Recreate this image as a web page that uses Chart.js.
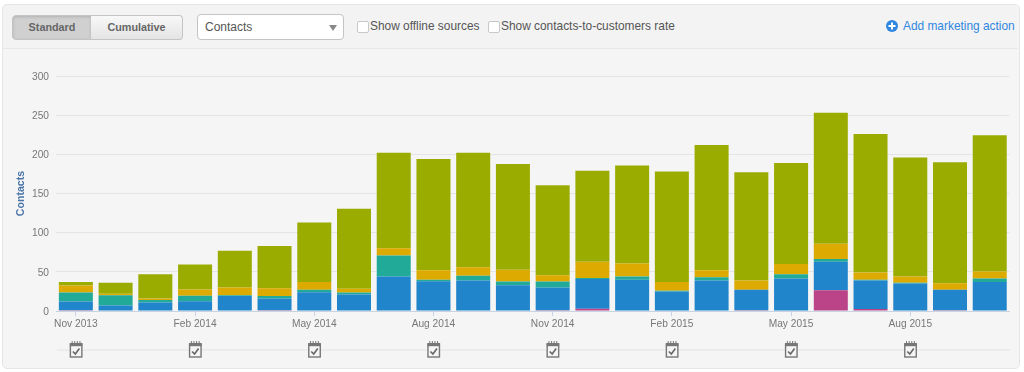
<!DOCTYPE html>
<html>
<head>
<meta charset="utf-8">
<script src="https://cdn.jsdelivr.net/npm/chart.js@4"></script>
<style>
html,body{margin:0;padding:0;width:1024px;height:372px;background:#fff;overflow:hidden;font-family:"Liberation Sans",Arial,sans-serif;}
#panel{position:absolute;left:2px;top:4px;width:1016px;height:363px;background:#f5f5f5;border:1px solid #e6e6e6;border-radius:5px;}
#head{position:absolute;left:3px;top:5px;width:1015px;height:43px;background:#f3f3f3;border-bottom:1px solid #e8e8e8;border-radius:5px 5px 0 0;}
#chart{position:absolute;left:0;top:0;}
.btn{position:absolute;top:15px;height:23px;line-height:23px;text-align:center;font-size:10.8px;font-weight:bold;color:#666;border:1px solid #c4c4c4;box-sizing:content-box;}
#std{left:12px;width:78px;background:#d0d0d0;border-radius:4px 0 0 4px;box-shadow:inset 0 1px 3px rgba(0,0,0,.15);}
#cum{left:91px;width:91px;border-left:0;background:linear-gradient(#f8f8f8,#e4e4e4);border-radius:0 4px 4px 0;}
#sel{position:absolute;left:197px;top:14px;width:145px;height:24px;line-height:24px;background:#fff;border:1px solid #c4c4c4;border-radius:4px;font-size:12px;color:#555;text-indent:7px;}
#sel i{position:absolute;right:6px;top:10px;width:0;height:0;border-left:4px solid transparent;border-right:4px solid transparent;border-top:6px solid #888;}
.cb{position:absolute;top:21px;width:10px;height:10px;background:#fff;border:1px solid #c8c8c8;border-radius:2px;}
.lb{position:absolute;top:19px;font-size:11.9px;line-height:15px;color:#555;white-space:nowrap;}
#add{position:absolute;left:903px;top:19px;font-size:11.9px;line-height:15px;color:#2f87e0;white-space:nowrap;}
#plus{position:absolute;left:886px;top:20px;width:12px;height:12px;}
</style>
</head>
<body>
<div id="panel"></div>
<div id="head"></div>
<div id="std" class="btn">Standard</div>
<div id="cum" class="btn">Cumulative</div>
<div id="sel">Contacts<i></i></div>
<div class="cb" style="left:357px"></div><div class="lb" style="left:370px">Show offline sources</div>
<div class="cb" style="left:488px"></div><div class="lb" style="left:501px">Show contacts-to-customers rate</div>
<svg id="plus" viewBox="0 0 12 12"><circle cx="6" cy="6" r="6" fill="#2f87e0"/><rect x="2.5" y="5" width="7" height="2" fill="#fff"/><rect x="5" y="2.5" width="2" height="7" fill="#fff"/></svg>
<div id="add">Add marketing action</div>
<canvas id="chart" width="1024" height="372"></canvas>
<script>
const categories = ['Nov 2013','Dec 2013','Jan 2014','Feb 2014','Mar 2014','Apr 2014','May 2014','Jun 2014','Jul 2014','Aug 2014','Sep 2014','Oct 2014','Nov 2014','Dec 2014','Jan 2015','Feb 2015','Mar 2015','Apr 2015','May 2015','Jun 2015','Jul 2015','Aug 2015','Sep 2015','Oct 2015'];
const tickLabels = ['Nov 2013','Feb 2014','May 2014','Aug 2014','Nov 2014','Feb 2015','May 2015','Aug 2015'];
const yTicks = [0,50,100,150,200,250,300];
const pink  = [1,0,0,0,0,1,0,0,0,0,0,0,1,3,0,0,0,1,0,26.5,2.5,0,1,0];
const blue  = [11,7,11,12.5,19,15,24,21,44,38,39,33,29,38,40,25,39,26,41.5,36.5,36.5,35,26,37];
const teal  = [11.5,13,3,7,1,3,3,2.5,27,2,6,4.6,7.6,1,4,1,4,0,5.5,3.5,1,1,0,4.5];
const gold  = [9,2,2,8,10,10,10,5,9,12,11,15,8,21,16.7,11,9,12,13,19.5,9,8,8.5,9];
const green = [4.5,14,31,32,47,54,76,102,122,142,146,135,115,116,125,141,160,138,129,167,177,152,154.5,174];

const markerPlugin = {
  id:'markers',
  afterDraw(chart){
    const c = chart.ctx, x = chart.scales.x, y0 = 350;
    c.save();
    c.strokeStyle = '#e8e8e8'; c.lineWidth = 1.5;
    c.beginPath(); c.moveTo(57,y0); c.lineTo(1010,y0); c.stroke();
    tickLabels.forEach(l=>{
      const px = x.getPixelForValue(categories.indexOf(l));
      c.fillStyle='#f5f5f5'; c.strokeStyle='#777'; c.lineWidth=1.4;
      c.fillRect(px-6,y0-6,12,13); c.strokeRect(px-5.5,y0-6,11.5,13);
      c.fillStyle='#777'; c.fillRect(px-6,y0-7,12.5,3.2);
      c.strokeStyle='#777'; c.lineWidth=1;
      for(let i=-4;i<=4;i+=2.6){c.beginPath();c.moveTo(px+i+.3,y0-9);c.lineTo(px+i+.3,y0-6);c.stroke();}
      c.strokeStyle='#666'; c.lineWidth=1.6;
      c.beginPath(); c.moveTo(px-3,y0+1.5); c.lineTo(px-.5,y0+4); c.lineTo(px+3.5,y0-1.5); c.stroke();
    });
    c.restore();
  }
};

const mk = (label,data,color)=>({label,data,backgroundColor:color,borderWidth:0,stack:'a',barPercentage:0.856,categoryPercentage:1});

new Chart(document.getElementById('chart'),{
  type:'bar',
  data:{labels:categories,datasets:[
    mk('Offline',pink,'#bb4488'),
    mk('Organic',blue,'#2185cb'),
    mk('Referrals',teal,'#22aa99'),
    mk('Social',gold,'#dcaa00'),
    mk('Direct',green,'#9aac00')
  ]},
  plugins:[markerPlugin],
  options:{
    responsive:false,animation:false,
    layout:{padding:{left:15,top:76,right:14.4,bottom:31}},
    plugins:{legend:{display:false},tooltip:{enabled:false}},
    scales:{
      x:{stacked:true,
        afterFit(s){s.height=30;},
        border:{color:'#c8d4e2',width:1},
        grid:{drawOnChartArea:false,offset:false,tickLength:5,
          tickColor(ctx){return tickLabels.includes(categories[ctx.index])?'#c8d4e2':'transparent';}},
        ticks:{autoSkip:false,maxRotation:0,color:'#777',padding:2,font:{family:'Liberation Sans',size:10.2},
          callback(v,i){return tickLabels.includes(categories[i])?categories[i]:'';}}
      },
      y:{stacked:true,min:0,max:300,
        afterFit(s){s.width=41;},
        afterBuildTicks(s){s.ticks=yTicks.map(v=>({value:v}));},
        border:{display:false},
        grid:{color:'#e4e4e4',lineWidth:1,drawTicks:false},
        ticks:{color:'#777',padding:7,labelOffset:1,font:{family:'Liberation Sans',size:10.2}},
        title:{display:true,text:'Contacts',color:'#4a74a8',padding:{top:0,bottom:8},font:{family:'Liberation Sans',size:10.6,weight:'bold'}}
      }
    }
  }
});
</script>
</body>
</html>
